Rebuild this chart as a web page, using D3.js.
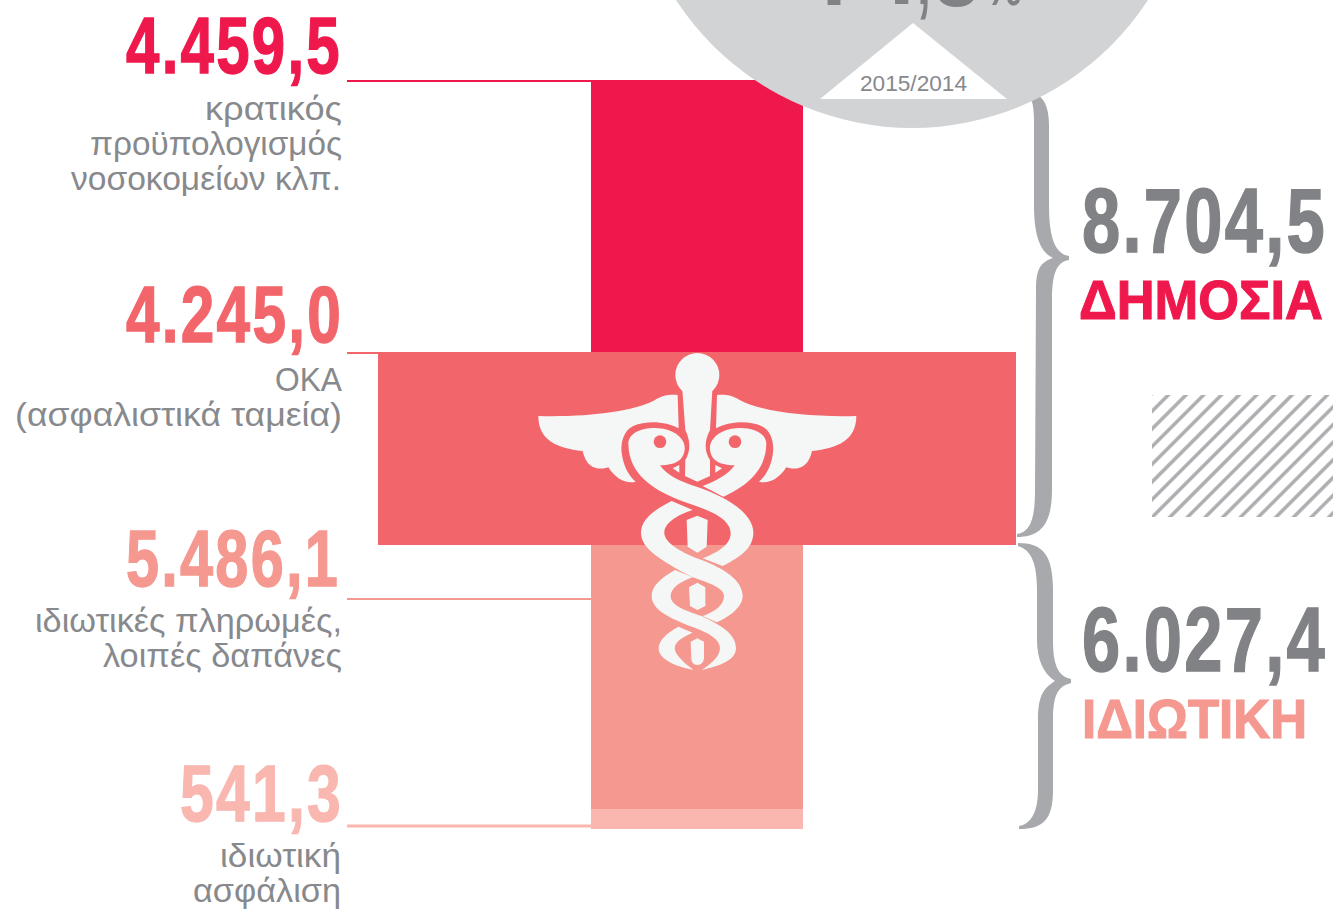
<!DOCTYPE html>
<html><head><meta charset="utf-8">
<style>html,body{margin:0;padding:0;background:#fff}svg{display:block}</style>
<script src="https://cdn.jsdelivr.net/npm/d3@7/dist/d3.min.js"></script>
</head><body><svg id="c" width="1333" height="909"></svg>
<script>
// ---- data ----
const categories = ["κρατικός προϋπολογισμός νοσοκομείων κλπ.","ΟΚΑ (ασφαλιστικά ταμεία)","ιδιωτικές πληρωμές, λοιπές δαπάνες","ιδιωτική ασφάλιση"];
const values = [4459.5, 4245.0, 5486.1, 541.3];
const valueLabels = ["4.459,5","4.245,0","5.486,1","541,3"];
const groupNames = ["ΔΗΜΟΣΙΑ","ΙΔΙΩΤΙΚΗ"];
const groupTotals = [8704.5, 6027.4];
const groupLabels = ["8.704,5","6.027,4"];
const changeGlyphs = ["+","4",",","8","%"];
const periodLabel = "2015/2014";

// ---- layout / style ----
const colors = ["#ef184c","#f2666b","#f59890","#f9b7b0"];
const grey = "#808285", labelGrey = "#87898c", braceGrey = "#a7a9ac";
const iconFill = "#f5f7f6";
const NUM = "'Liberation Sans',Arial,sans-serif";
const TXT = "'Liberation Sans',Arial,sans-serif";
const svg = d3.select("#c");

// cumulative value -> vertical pixel (the original's stack is piecewise, not proportional)
const cum = d3.cumsum(values);
const y = d3.scaleLinear().domain([0, ...cum]).range([80, 352, 545, 809, 829]);
const starts = [0, ...cum.slice(0, -1)];
const barX = [[591,212],[378,638],[591,212],[591,212]];
const leaderY = [81, 353, 599, 826];
const leaderEnd = [591, 378, 591, 591];
const leaderW = [2, 2, 2, 3];
const numPos = [{b:73,x0:126,x1:342},{b:342,x0:126,x1:343},{b:586,x0:126,x1:340},{b:821,x0:180,x1:343}];
const labelLines = [
 [["κρατικός",120,205,342],["προϋπολογισμός",155,90,342],["νοσοκομείων κλπ.",190,71,341]],
 [["ΟΚΑ",391,275,342],["(ασφαλιστικά ταμεία)",426,15,342]],
 [["ιδιωτικές πληρωμές,",632,35,342],["λοιπές δαπάνες",667,103,342]],
 [["ιδιωτική",867,220,341],["ασφάλιση",902,193,341]]
];
const changePos = [[800,868,13,100],[862,918,4,100],[917,931,4,100],[933,980,6,100],[985,1022,5,56]];

function fitText(sel, str, x0, x1, base, font, size, weight, fill, sw, ls){
  const t = sel.append("text").text(str).attr("x",x0).attr("y",base)
    .attr("font-family",font).attr("font-size",size).attr("font-weight",weight)
    .attr("fill",fill).attr("textLength",x1-x0).attr("lengthAdjust","spacingAndGlyphs");
  if (sw) t.attr("stroke",fill).attr("stroke-width",sw);
  if (ls) t.style("letter-spacing",ls+"px");
  return t;
}

// hatch
const defs = svg.append("defs");
const pat = defs.append("pattern").attr("id","hatch").attr("patternUnits","userSpaceOnUse")
  .attr("width",12.5).attr("height",12.5).attr("patternTransform","translate(1170,517) rotate(45)");
pat.append("rect").attr("x",-1.7).attr("width",3.4).attr("height",12.5).attr("fill","#aaacaf");
pat.append("rect").attr("x",10.8).attr("width",3.4).attr("height",12.5).attr("fill","#aaacaf");
svg.append("rect").attr("x",1152).attr("y",395).attr("width",181).attr("height",122).attr("fill","url(#hatch)");

// leaders
svg.selectAll("line.l").data(values).join("line").attr("class","l")
  .attr("x1",347).attr("x2",(d,i)=>leaderEnd[i])
  .attr("y1",(d,i)=>leaderY[i]).attr("y2",(d,i)=>leaderY[i])
  .attr("stroke",(d,i)=>colors[i]).attr("stroke-width",(d,i)=>leaderW[i]);

// braces
svg.append("path").attr("fill",braceGrey).attr("d","M1020,88 C1040,92 1049,100 1049,125 L1049,205 C1049,240 1056,254 1069,256 L1069,260 C1056,262 1052,275 1052,300 L1052,490 C1052,525 1040,537 1017,537 L1017,534 C1030,532 1035,520 1035,490 L1036,290 C1036,270 1040,262 1053,258 C1040,252 1034,235 1034,205 L1034,120 C1034,100 1030,92 1020,90 Z");
svg.append("path").attr("fill",braceGrey).attr("d","M1018,543 C1043,543 1053,555 1053,590 L1053,640 C1053,665 1058,676 1071,679 L1071,683 C1058,686 1053,695 1053,720 L1053,790 C1053,820 1043,829 1019,829 L1019,826 C1032,824 1038,810 1038,790 L1038,720 C1038,695 1044,688 1055,681 C1044,674 1037,660 1037,640 L1037,590 C1037,565 1032,550 1018,546 Z");

// bars
svg.selectAll("rect.b").data(values).join("rect").attr("class","b")
  .attr("x",(d,i)=>barX[i][0]).attr("width",(d,i)=>barX[i][1])
  .attr("y",(d,i)=>y(starts[i])).attr("height",(d,i)=>y(starts[i]+d)-y(starts[i]))
  .attr("fill",(d,i)=>colors[i]);

// badge circle + triangle
svg.append("circle").attr("cx",912).attr("cy",-153.6).attr("r",281.6).attr("fill","#d1d3d4");
svg.append("path").attr("fill","#fff").attr("d","M913,23 L1007,99 L820,99 Z");
changeGlyphs.forEach((g,i)=>{
  const p = changePos[i];
  fitText(svg, g, p[0], p[1], p[2], NUM, p[3], 700, grey);
});
fitText(svg, periodLabel, 860, 967, 91, TXT, 22, 400, labelGrey);

// caduceus
const ic = svg.append("g").attr("transform","translate(520,340) scale(0.33333)").attr("fill",iconFill);
ic.append("circle").attr("cx",532).attr("cy",105).attr("r",66);
ic.append("path").attr("d","M487,150 L496,270 Q520,320 496,360 L495,408 L532,425 L570,408 L570,360 Q544,320 570,270 L577,150 Z");
const wing = "M55,228 C200,232 340,215 405,180 C430,165 450,163 473,165 L476,265 C440,245 380,240 340,258 C310,272 300,310 306,345 C312,385 330,410 347,425 C320,432 290,420 265,382 C240,390 200,390 188,333 C110,325 55,300 55,228 Z";
ic.append("path").attr("d",wing);
ic.append("path").attr("d",wing).attr("transform","translate(1064,0) scale(-1,1)");
ic.append("path").attr("d","M325,310 C328,272 380,258 430,266 C480,276 505,310 490,345 C480,370 450,375 420,376 C440,405 480,425 530,440 C620,470 700,520 700,578 C700,630 650,655 608,678 L548,655 C590,640 632,615 632,580 C632,540 580,515 520,495 C430,465 325,420 325,310 Z");
ic.append("path").attr("transform","translate(1064,0) scale(-1,1)").attr("d","M325,310 C328,272 380,258 430,266 C480,276 505,310 490,345 C480,370 450,375 420,376 C440,405 480,425 516,438 L454,470 C400,445 325,400 325,310 Z");
ic.append("path").attr("d","M455,483 C400,510 363,540 363,578 C363,625 420,660 518,712 C570,730 612,745 612,768 C612,795 585,815 548,828 L590,847 C630,830 668,800 668,768 C668,720 610,685 545,660 C490,640 433,610 433,578 C433,550 470,525 518,510 Z");
ic.append("path").attr("d","M465,690 C420,715 395,740 395,768 C395,810 450,835 520,862 C570,880 600,900 600,925 C600,950 570,975 545,990 C600,978 648,960 648,925 C648,880 600,855 545,828 C490,810 452,795 452,768 C452,745 480,725 518,712 Z");
ic.append("path").attr("d","M475,860 C440,880 416,900 416,925 C416,960 470,980 520,990 C495,970 464,945 464,925 C464,905 490,890 518,878 Z");
ic.append("path").attr("d","M500,540 L532,527 L563,540 L560,620 L532,638 L503,620 Z");
ic.append("path").attr("d","M507,742 L532,728 L556,742 L556,798 L532,810 L510,798 Z");
ic.append("path").attr("d","M512,905 L532,895 L552,905 L552,955 Q550,975 532,975 Q514,975 514,955 Z");
ic.append("path").attr("d","M458,385 L478,375 L478,398 Z");
ic.append("path").attr("d","M606,385 L586,375 L586,398 Z");
ic.append("circle").attr("cx",420).attr("cy",305).attr("r",19).attr("fill",colors[1]);
ic.append("circle").attr("cx",645).attr("cy",305).attr("r",19).attr("fill",colors[1]);

// left labels
valueLabels.forEach((s,i)=>{
  const p = numPos[i];
  fitText(svg, s, p.x0, p.x1, p.b, NUM, 80, 700, colors[i], 1.4, 3);
  labelLines[i].forEach(l=>fitText(svg, l[0], l[2], l[3], l[1], TXT, 33, 400, labelGrey));
});

// right totals
const totPos = [{b:252,nb:319,n0:1079,n1:1323},{b:671,nb:738,n0:1082,n1:1307}];
const totCol = [colors[0], colors[2]];
groupLabels.forEach((s,i)=>{
  fitText(svg, s, 1082, 1327, totPos[i].b, NUM, 91, 700, grey, 1.5, 3);
  fitText(svg, groupNames[i], totPos[i].n0, totPos[i].n1, totPos[i].nb, NUM, 56, 700, totCol[i], 1.2);
});
</script></body></html>
